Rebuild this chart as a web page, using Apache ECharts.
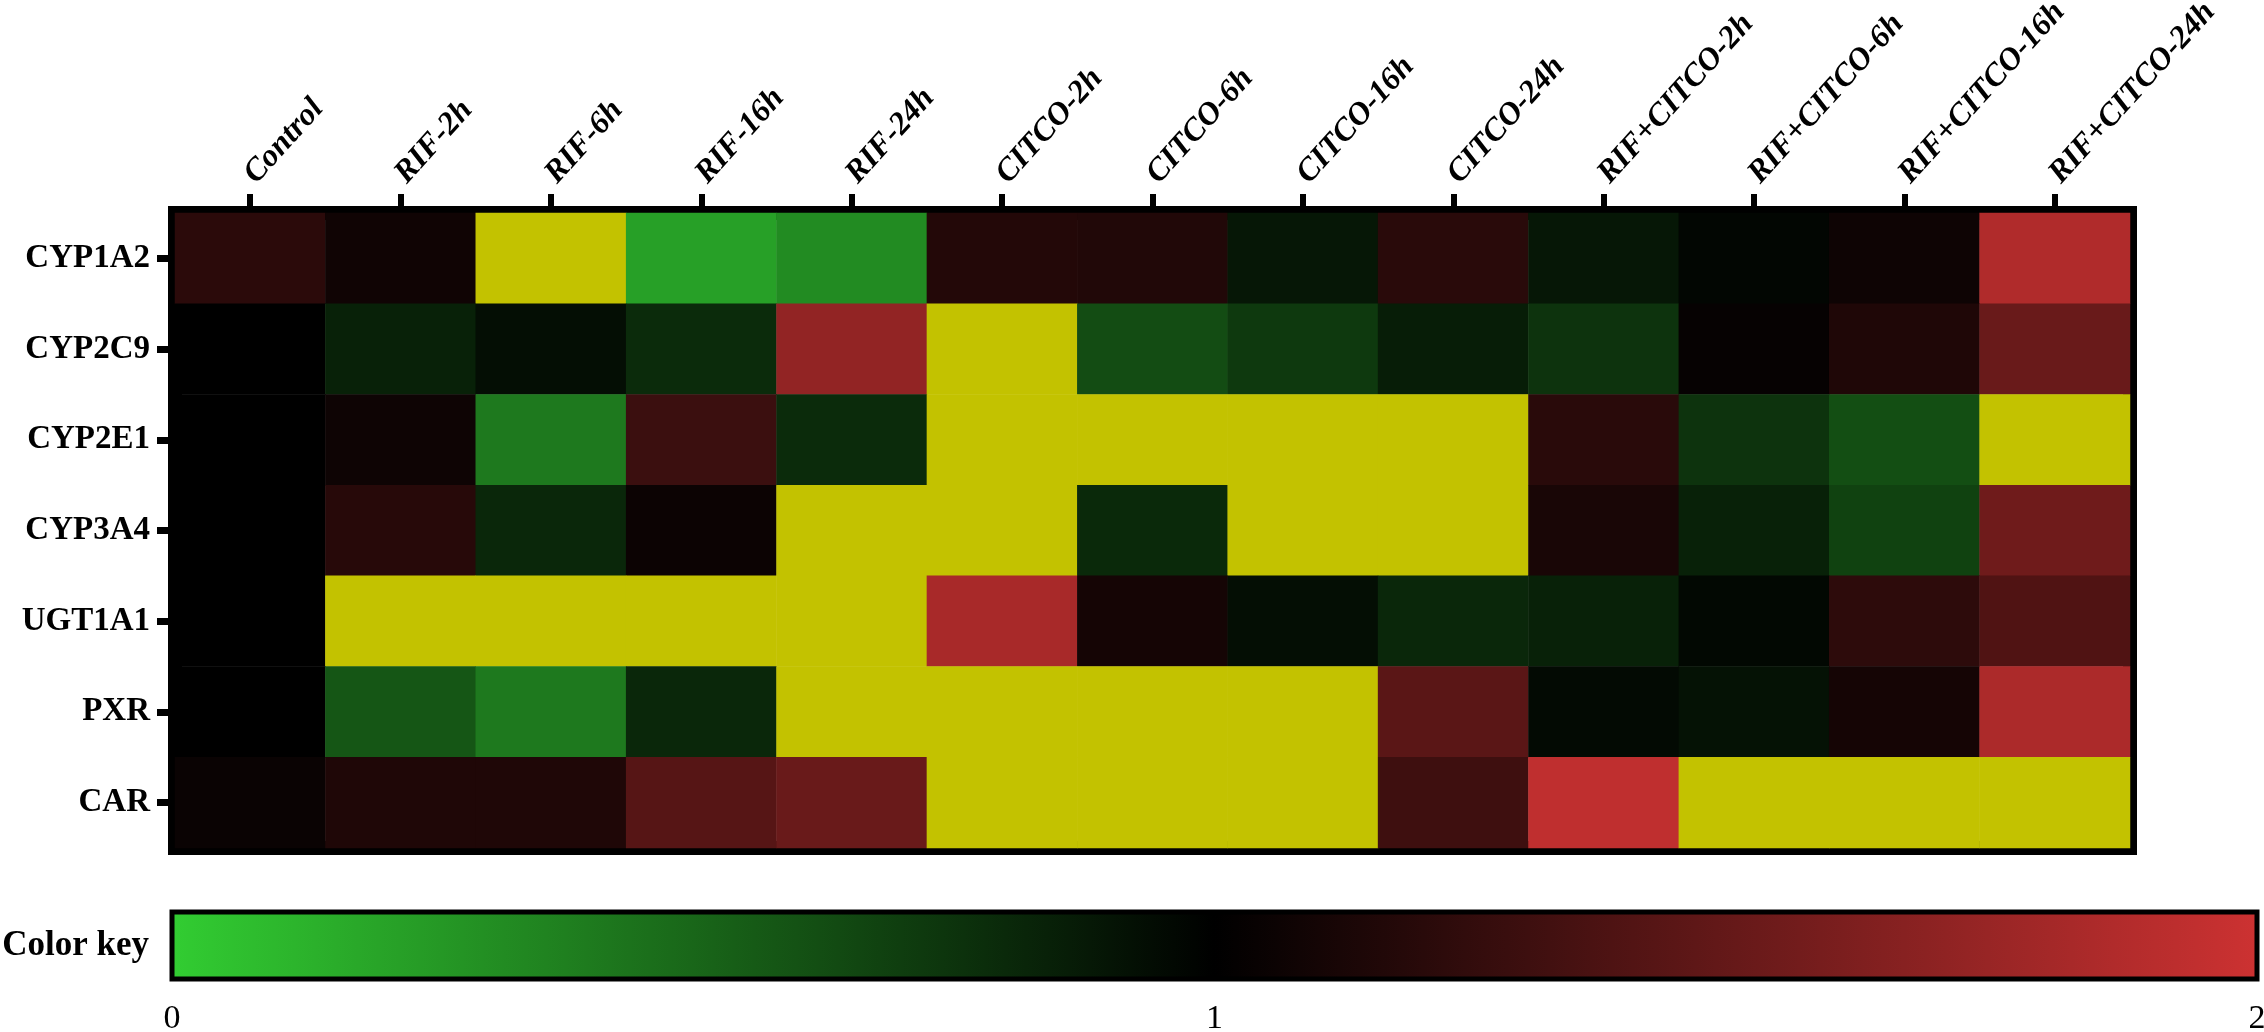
<!DOCTYPE html>
<html>
<head>
<meta charset="utf-8">
<title>Color key heatmap</title>
<script src="https://cdn.jsdelivr.net/npm/echarts@6/dist/echarts.min.js"></script>
<style>
  html, body { margin: 0; padding: 0; background: #fff; }
  #main { width: 2264px; height: 1032px; }
</style>
</head>
<body>
<div id="main"></div>
<script>
// columns (treatments) and rows (genes)
var groups = ['Control', 'RIF-2h', 'RIF-6h', 'RIF-16h', 'RIF-24h',
  'CITCO-2h', 'CITCO-6h', 'CITCO-16h', 'CITCO-24h',
  'RIF+CITCO-2h', 'RIF+CITCO-6h', 'RIF+CITCO-16h', 'RIF+CITCO-24h'];
var genes = ['CYP1A2', 'CYP2C9', 'CYP2E1', 'CYP3A4', 'UGT1A1', 'PXR', 'CAR'];

// fold change per gene, one value per group. Y = above the key range (yellow cells)
var Y = 3;
var cyp1a2 = [1.21, 1.08, Y, 0.22, 0.32, 1.17, 1.16, 0.89, 1.20, 0.89, 0.97, 1.07, 1.86];
var cyp2c9 = [1.00, 0.84, 0.93, 0.79, 1.71, Y, 0.63, 0.72, 0.86, 0.75, 1.03, 1.15, 1.51];
var cyp2e1 = [1.00, 1.07, 0.41, 1.29, 0.79, Y, Y, Y, Y, 1.20, 0.75, 0.62, Y];
var cyp3a4 = [1.00, 1.19, 0.81, 1.06, Y, Y, 0.80, Y, Y, 1.12, 0.84, 0.68, 1.54];
var ugt1a1 = [1.00, Y, Y, Y, Y, 1.82, 1.10, 0.93, 0.81, 0.84, 0.96, 1.22, 1.39];
var pxr    = [1.00, 0.58, 0.41, 0.81, Y, Y, Y, Y, 1.44, 0.95, 0.91, 1.10, 1.84];
var car    = [1.05, 1.15, 1.15, 1.42, 1.51, Y, Y, Y, 1.30, 1.93, Y, Y, Y];

// colour key
var keyTicks = [0, 1, 2];
var keyLabel = 'Color key';

var rows = [cyp1a2, cyp2c9, cyp2e1, cyp3a4, ugt1a1, pxr, car];
var cells = [];
for (var r = 0; r < rows.length; r++) {
  for (var c = 0; c < rows[r].length; c++) {
    cells.push([c, r, rows[r][c]]);
  }
}

var GREEN = '#32cd32', RED = '#cd3232', YELLOW = '#c3c200';
var serif = '"Liberation Serif", "Times New Roman", serif';
var keyMin = keyTicks[0], keyMax = keyTicks[keyTicks.length - 1];

var chart = echarts.init(document.getElementById('main'));

var option = {
  animation: false,
  backgroundColor: '#fff',
  grid: [
    {
      // heatmap
      left: 175, top: 213, width: 1955, height: 635,
      outerBoundsMode: 'none',
      show: true, borderColor: '#000', borderWidth: 14, backgroundColor: 'transparent'
    },
    {
      // colour key bar
      left: 172, top: 912, width: 2085, height: 67,
      outerBoundsMode: 'none',
      show: true, borderColor: '#000', borderWidth: 5,
      backgroundColor: new echarts.graphic.LinearGradient(0, 0, 1, 0, [
        { offset: 0, color: GREEN },
        { offset: 0.5, color: '#000' },
        { offset: 1, color: RED }
      ])
    }
  ],
  xAxis: [
    {
      gridIndex: 0, type: 'category', position: 'top', data: groups,
      axisLine: { show: false },
      axisTick: { show: true, alignWithLabel: true, length: 19, lineStyle: { color: '#000', width: 6 } },
      axisLabel: {
        interval: 0, rotate: -48, margin: 34, color: '#000',
        fontFamily: serif, fontSize: 32, fontWeight: 'bold', fontStyle: 'italic'
      },
      splitLine: { show: false }
    },
    {
      gridIndex: 1, type: 'value', min: keyMin, max: keyMax, interval: 1,
      axisLine: { show: false }, axisTick: { show: false }, splitLine: { show: false },
      axisLabel: { margin: 23, color: '#000', fontFamily: serif, fontSize: 34, showMinLabel: true, showMaxLabel: true }
    }
  ],
  yAxis: [
    {
      gridIndex: 0, type: 'category', data: genes, inverse: true,
      axisLine: { show: false },
      axisTick: { show: true, alignWithLabel: true, length: 18, lineStyle: { color: '#000', width: 7 } },
      axisLabel: { margin: 25, color: '#000', fontFamily: serif, fontSize: 33, fontWeight: 'bold' },
      splitLine: { show: false }
    },
    {
      gridIndex: 1, type: 'category', data: [keyLabel],
      axisLine: { show: false }, axisTick: { show: false }, splitLine: { show: false },
      axisLabel: { margin: 23, color: '#000', fontFamily: serif, fontSize: 35, fontWeight: 'bold' }
    }
  ],
  visualMap: {
    show: false,
    type: 'continuous',
    seriesIndex: 0,
    dimension: 2,
    min: keyMin,
    max: keyMax,
    // range just under max so values above the key fall out of range
    range: [keyMin, keyMax - 0.0001],
    inRange: { color: [GREEN, '#000000', RED] },
    outOfRange: { color: [YELLOW] }
  },
  series: [
    {
      type: 'heatmap',
      xAxisIndex: 0,
      yAxisIndex: 0,
      data: cells,
      itemStyle: { borderWidth: 0 },
      emphasis: { disabled: true }
    }
  ]
};

chart.setOption(option);
</script>
</body>
</html>
